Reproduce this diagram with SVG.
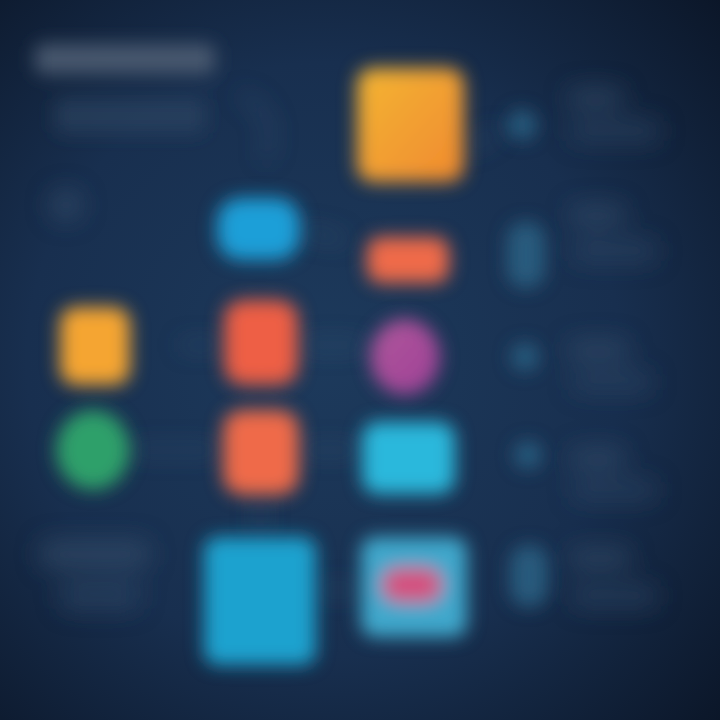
<svg xmlns="http://www.w3.org/2000/svg" width="720" height="720" viewBox="0 0 720 720">
<defs>
<radialGradient id="bg" cx="0.45" cy="0.5" r="0.75">
<stop offset="0" stop-color="#1d3a5c"/>
<stop offset="0.55" stop-color="#182f4f"/>
<stop offset="1" stop-color="#0b1628"/>
</radialGradient>
<linearGradient id="gy" x1="0" y1="0" x2="1" y2="1">
<stop offset="0" stop-color="#f4b534"/>
<stop offset="1" stop-color="#f0892e"/>
</linearGradient>
<linearGradient id="gm" x1="0" y1="0" x2="1" y2="1">
<stop offset="0" stop-color="#b0589c"/>
<stop offset="1" stop-color="#9e4096"/>
</linearGradient>
<filter id="b8" x="-50%" y="-50%" width="200%" height="200%"><feGaussianBlur stdDeviation="9"/></filter>
<filter id="b12" x="-60%" y="-60%" width="220%" height="220%"><feGaussianBlur stdDeviation="12"/></filter>
</defs>
<style>
.faint{fill:#3a5270;opacity:.55}
.faint2{fill:#2f4a68;opacity:.5}
.tealdot{fill:#2d6a8c;opacity:.75}
.conn{stroke:#4a6a8a;stroke-width:6;fill:none;opacity:.45}
</style>
<rect width="720" height="720" fill="url(#bg)"/>

<g id="title" filter="url(#b8)">
<rect x="35" y="44" width="180" height="30" rx="8" fill="#4c5c72" opacity="0.9"/>
<rect x="55" y="98" width="150" height="36" rx="8" class="faint2"/>
</g>

<g id="connectors" filter="url(#b12)">
<path class="conn" d="M240 95 Q280 110 265 160"/>
<line class="conn" x1="465" y1="150" x2="500" y2="130"/>
<line class="conn" x1="300" y1="230" x2="345" y2="240"/>
<line class="conn" x1="180" y1="345" x2="220" y2="345"/>
<line class="conn" x1="300" y1="345" x2="365" y2="345"/>
<line class="conn" x1="130" y1="450" x2="220" y2="450"/>
<line class="conn" x1="300" y1="450" x2="360" y2="450"/>
<line class="conn" x1="315" y1="590" x2="362" y2="590"/>
<line class="conn" x1="260" y1="495" x2="260" y2="535"/>
</g>

<g id="node-yellow-top" filter="url(#b8)"><rect x="357" y="68" width="107" height="114" rx="16" fill="url(#gy)"/></g>
<g id="node-blue-1" filter="url(#b8)"><rect x="217" y="198" width="83" height="62" rx="24" fill="#1e9fd8"/></g>
<g id="node-red-pill" filter="url(#b8)"><rect x="367" y="237" width="82" height="46" rx="14" fill="#ef6a48"/></g>
<g id="node-yellow-left" filter="url(#b8)"><rect x="60" y="307" width="70" height="78" rx="16" fill="#f5a533"/></g>
<g id="node-red-1" filter="url(#b8)"><rect x="224" y="300" width="74" height="85" rx="20" fill="#ee5f45"/></g>
<g id="node-magenta" filter="url(#b8)"><ellipse cx="405" cy="357" rx="35" ry="38" fill="url(#gm)"/></g>
<g id="node-green" filter="url(#b8)"><ellipse cx="93" cy="450" rx="37" ry="40" fill="#2ea06a"/></g>
<g id="node-orange-2" filter="url(#b8)"><rect x="223" y="410" width="76" height="85" rx="20" fill="#ef6b4a"/></g>
<g id="node-cyan" filter="url(#b8)"><rect x="362" y="422" width="93" height="72" rx="16" fill="#2bb8dc"/></g>
<g id="node-blue-big" filter="url(#b8)"><rect x="204" y="537" width="112" height="128" rx="14" fill="#1ea2cf"/></g>
<g id="node-lightblue" filter="url(#b8)">
<rect x="361" y="537" width="106" height="100" rx="14" fill="#3fa8cc"/>
<rect x="382" y="568" width="60" height="34" rx="16" fill="#d5507e"/>
</g>

<g id="faint-left" filter="url(#b12)">
<circle cx="66" cy="205" r="16" class="faint"/>
<rect x="40" y="540" width="110" height="28" rx="10" class="faint"/>
<rect x="60" y="580" width="80" height="30" rx="10" class="faint2"/>
</g>

<g id="side-dots" filter="url(#b8)">
<circle cx="522" cy="125" r="15" class="tealdot"/>
<rect x="507" y="222" width="38" height="66" rx="18" class="tealdot"/>
<circle cx="525" cy="357" r="14" class="tealdot"/>
<circle cx="528" cy="455" r="14" class="tealdot"/>
<rect x="510" y="545" width="38" height="62" rx="18" class="tealdot"/>
</g>

<g id="side-lines" filter="url(#b12)">
<rect x="568" y="88" width="55" height="20" rx="8" class="faint"/>
<rect x="570" y="120" width="90" height="22" rx="8" class="faint2"/>
<rect x="570" y="205" width="55" height="20" rx="8" class="faint"/>
<rect x="572" y="240" width="85" height="22" rx="8" class="faint2"/>
<rect x="568" y="340" width="60" height="20" rx="8" class="faint"/>
<rect x="572" y="372" width="80" height="20" rx="8" class="faint2"/>
<rect x="570" y="448" width="55" height="20" rx="8" class="faint"/>
<rect x="572" y="480" width="85" height="20" rx="8" class="faint2"/>
<rect x="570" y="548" width="60" height="20" rx="8" class="faint"/>
<rect x="572" y="585" width="85" height="22" rx="8" class="faint2"/>
</g>
</svg>
